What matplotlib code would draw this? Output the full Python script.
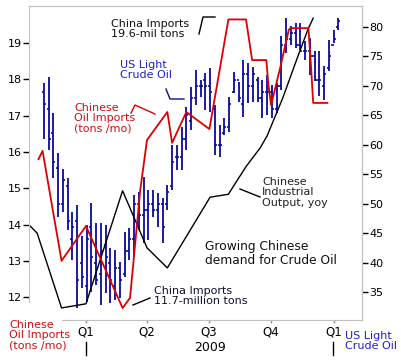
import numpy as np
import pandas as pd
import matplotlib
matplotlib.use("Agg")
import matplotlib.pyplot as plt
import matplotlib.dates as mdates
from matplotlib.lines import Line2D

plt.rcParams['font.family'] = ['DejaVu Sans']

# US light crude, weekly bars ($/bbl), Fridays from 2008-10-31
crude_start = '2008-10-31'
crude_high = [70.5, 71.5, 65.4, 58.6, 55.9, 54.4, 48.6, 49.8, 44.5, 46.4,
              50.1, 46.7, 46.7, 46.4, 42.5, 42.1, 40.1, 45.2, 45.9, 51.5,
              52.0, 54.5, 52.3, 52.3, 51.8, 51.0, 53.2, 60.0, 60.0, 63.0,
              66.4, 69.8, 72.7, 71.0, 72.2, 73.0, 66.8, 63.4, 64.5, 68.1,
              72.4, 70.7, 74.4, 73.9, 73.2, 71.5, 71.0, 71.9, 70.2, 70.5,
              78.5, 81.5, 80.2, 80.7, 80.7, 77.6, 78.1, 75.9, 75.9, 73.4,
              77.8, 79.5, 81.5]
crude_low = [61.0, 59.1, 54.4, 47.7, 48.6, 45.5, 40.4, 32.3, 35.7, 33.3,
             35.0, 36.2, 32.8, 34.8, 33.1, 33.6, 34.0, 37.6, 40.4, 40.9,
             45.5, 43.3, 43.8, 47.7, 46.0, 43.3, 48.9, 52.3, 55.7, 55.7,
             59.1, 62.5, 66.8, 68.1, 65.9, 65.6, 58.3, 57.9, 61.7, 62.2,
             68.8, 67.3, 64.7, 67.1, 67.3, 67.3, 64.5, 65.1, 64.5, 65.4,
             69.3, 75.6, 76.9, 76.4, 76.1, 74.4, 71.9, 70.8, 68.3, 67.6,
             72.5, 77.3, 79.5]
crude_open = [69.0, 66.0, 62.0, 56.0, 50.0, 53.0, 44.0, 47.0, 40.0, 36.0,
              46.0, 40.0, 38.0, 43.0, 40.0, 36.0, 39.0, 38.0, 42.0, 44.0,
              50.0, 48.0, 49.0, 50.0, 49.0, 50.0, 50.0, 53.0, 58.0, 58.0,
              61.0, 64.0, 68.0, 70.0, 71.0, 70.0, 66.0, 60.0, 62.0, 63.0,
              69.0, 71.0, 67.0, 72.0, 70.0, 71.0, 68.0, 69.0, 69.0, 66.0,
              70.0, 77.0, 78.0, 79.0, 77.0, 76.0, 76.0, 75.0, 71.0, 70.0,
              73.0, 77.0, 80.0]
crude_close = [67.0, 61.0, 57.0, 50.0, 54.0, 47.0, 46.0, 37.0, 37.5, 44.0,
               41.0, 37.0, 42.0, 41.0, 37.0, 39.0, 37.0, 42.0, 44.0, 50.0,
               48.0, 49.0, 50.0, 49.0, 50.0, 46.0, 52.0, 57.0, 58.0, 61.0,
               65.0, 68.0, 70.0, 70.0, 70.0, 69.0, 60.0, 60.0, 63.0, 67.0,
               71.0, 68.0, 72.0, 70.0, 72.0, 68.0, 69.0, 69.0, 66.0, 70.0,
               77.0, 78.0, 79.0, 77.0, 76.0, 76.0, 75.0, 71.0, 71.0, 72.0,
               75.0, 78.0, 81.0]

# Chinese crude imports (million tons / month)
imp_dates = ['2008-10-23', '2008-10-29', '2008-11-26', '2009-01-01', '2009-02-24',
             '2009-03-07', '2009-03-22', '2009-04-01', '2009-05-01', '2009-05-08',
             '2009-05-29', '2009-07-02', '2009-07-30', '2009-08-25', '2009-09-03',
             '2009-09-24', '2009-09-27', '2009-10-01', '2009-10-15', '2009-10-27',
             '2009-10-29', '2009-11-25', '2009-11-29', '2009-12-02', '2009-12-23']
imp_vals = [15.80, 16.03, 13.00, 13.96, 11.70, 11.98, 14.95, 16.33, 17.10, 16.25,
            17.10, 16.63, 19.65, 19.65, 18.53, 18.53, 17.84, 17.29, 18.37, 19.36,
            19.41, 19.41, 18.31, 17.35, 17.35]

# Chinese industrial output yoy, drawn against the crude scale
ip_dates = ['2008-10-09', '2008-10-21', '2008-11-26', '2009-01-01', '2009-02-24',
            '2009-04-01', '2009-05-01', '2009-07-03', '2009-07-30', '2009-08-10',
            '2009-08-25', '2009-09-15', '2009-09-25', '2009-10-18',
            '2009-11-10', '2009-11-25', '2009-12-02']
ip_vals = [46.4, 45.0, 32.3, 33.0, 52.2, 42.5, 39.1, 51.1, 51.6, 53.6,
           56.3, 59.5, 61.5, 67.9, 75.2, 79.8, 81.5]

q_dates = ['2009-01-01', '2009-04-01', '2009-07-01', '2009-10-01', '2010-01-01']
q_labels = ['Q1', 'Q2', 'Q3', 'Q4', 'Q1']

W, H = 402, 361
fig = plt.figure(figsize=(W / 100, H / 100), dpi=100)


def fx(x):
    return x / W


def fy(y):
    return 1 - y / H


ax = fig.add_axes([fx(29), fy(320), fx(362) - fx(29), fy(6) - fy(320)])
ax2 = ax.twinx()

RED = '#dd0000'
BLUE = '#0a0a9e'
GRAY = '#c0c0c0'

crude_dates = pd.date_range(crude_start, periods=len(crude_high), freq='7D')
ax2.vlines(crude_dates, crude_low, crude_high, color=BLUE, lw=1.3)
ax2.hlines(crude_close, crude_dates, crude_dates + pd.Timedelta(days=3), color=BLUE, lw=1.2)
ax2.hlines(crude_open, crude_dates - pd.Timedelta(days=3), crude_dates, color=BLUE, lw=1.2)

ax2.plot(pd.to_datetime(ip_dates), ip_vals, color='black', lw=1.0)
ax.plot(pd.to_datetime(imp_dates), imp_vals, color=RED, lw=1.3)
ax.set_zorder(ax2.get_zorder() + 1)
ax.patch.set_visible(False)

x0, x1 = pd.Timestamp('2008-10-09'), pd.Timestamp('2010-02-12')
ax.set_xlim(x0, x1)
ax.set_ylim(11.37, 20.02)
ax2.set_ylim(30.25, 83.57)

ax.set_yticks(range(12, 20))
ax2.set_yticks(range(35, 81, 5))
ax.set_xticks(pd.to_datetime(q_dates))
ax.set_xticklabels(q_labels)

for a in (ax, ax2):
    for s in a.spines.values():
        s.set_color(GRAY)
ax.spines['left'].set_bounds(11.86, 20.02)
ax.spines['bottom'].set_bounds(mdates.date2num(pd.Timestamp('2008-11-26')), mdates.date2num(x1))
ax2.spines['left'].set_visible(False)
ax2.spines['bottom'].set_visible(False)

ax.tick_params(axis='y', direction='out', length=4, width=1, color='black', labelsize=8, pad=1)
ax.tick_params(axis='x', direction='out', length=2, width=1, color='#909090', labelsize=8.5, pad=2)
ax2.tick_params(axis='y', direction='out', length=4, width=1, color='black', labelsize=8, pad=1)

txt = dict(fontsize=8, va='top', ha='left', linespacing=1.05)
fig.text(fx(111), fy(19), 'China Imports\n19.6-mil tons', color='#101010', **txt)
fig.text(fx(120), fy(60), 'US Light\nCrude Oil', color='#2020c8', **txt)
fig.text(fx(74), fy(103), 'Chinese\nOil Imports\n(tons /mo)', color='#d01010', **txt)
fig.text(fx(262), fy(177), 'Chinese\nIndustrial\nOutput, yoy', color='#202020', **txt)
fig.text(fx(205), fy(240), 'Growing Chinese\ndemand for Crude Oil', color='#101010',
         fontsize=8.8, va='top', ha='left', linespacing=1.05)
fig.text(fx(154), fy(286), 'China Imports\n11.7-million tons', color='#101030', **txt)
fig.text(fx(9), fy(320), 'Chinese\nOil Imports\n(tons /mo)', color='#d01010', **txt)
fig.text(fx(345), fy(331), 'US Light\nCrude Oil', color='#2020c8', **txt)
fig.text(fx(210), fy(341), '2009', color='black', fontsize=9, ha='center', va='top')

# pointer lines and year separators
pointers = [
    ([199, 203, 215], [34, 17, 17], 'black'),
    ([166, 170, 184], [89, 99, 99], BLUE),
    ([131, 135, 155], [113, 105, 114], RED),
    ([240, 260], [189, 197], 'black'),
    ([133, 150], [305, 298], 'black'),
    ([86, 86], [342, 355], 'black'),
    ([333, 333], [342, 355], 'black'),
]
for xs, ys, c in pointers:
    fig.add_artist(Line2D([fx(v) for v in xs], [fy(v) for v in ys], color=c, lw=1.0))

fig.savefig('out.png', dpi=100)
